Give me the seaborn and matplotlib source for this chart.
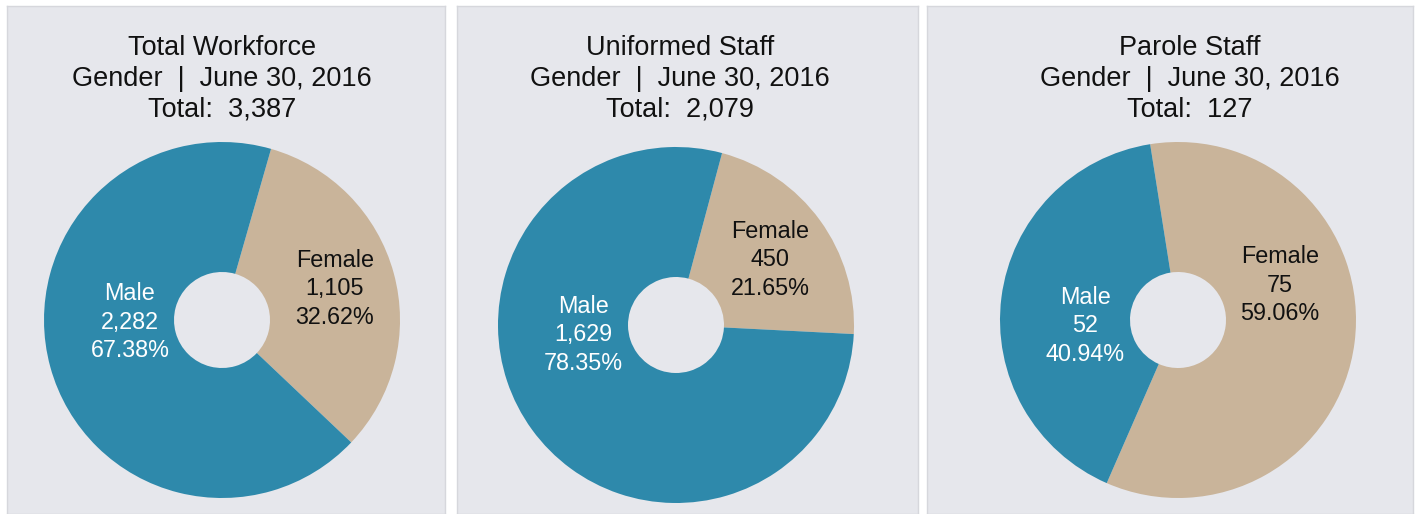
import matplotlib
matplotlib.use("Agg")
import matplotlib.pyplot as plt
import seaborn as sns

# chart data
titles = ["Total Workforce", "Uniformed Staff", "Parole Staff"]
report_date = "June 30, 2016"
totals = [3387, 2079, 127]
male_counts = [2282, 1629, 52]
female_counts = [1105, 450, 75]
male_pct = [67.38, 78.35, 40.94]
female_pct = [32.62, 21.65, 59.06]

sns.set_theme(style="white")
plt.rcParams["font.family"] = ["Liberation Sans", "DejaVu Sans"]

male_color, female_color = sns.color_palette(["#2E89AB", "#C9B49A"])
panel_bg = "#E6E7EC"

W, H = 1421, 514
fig = plt.figure(figsize=(W / 100, H / 100), dpi=100)
fig.patch.set_facecolor("white")

# layout in pixels (top-left origin)
panel_x = [(7, 445), (457, 918), (927, 1413)]
panel_y = (6, 514)
pie_centers = [(222, 320), (676, 325), (1178, 320)]
title_x = [222, 680, 1190]
female_start = [16, 15, -9]  # degrees clockwise from 12 o'clock
male_offsets = [(-92, -2), (-93, -10), (-93, -6)]
female_offsets = [(113, 31), (94, 65), (102, 35)]
radius, hole = 178, 48

for i in range(3):
    x0, x1 = panel_x[i]
    y0, y1 = panel_y
    ax = fig.add_axes([x0 / W, (H - y1) / H, (x1 - x0) / W, (y1 - y0) / H])
    ax.set_facecolor(panel_bg)
    cx, cy = pie_centers[i][0], H - pie_centers[i][1]

    ax.pie([female_counts[i], male_counts[i]],
           colors=[female_color, male_color],
           startangle=90 - female_start[i], counterclock=False,
           radius=radius, center=(cx, cy), frame=True,
           wedgeprops=dict(width=radius - hole, edgecolor="none"))

    ax.set_aspect("auto")
    ax.set_xlim(x0, x1)
    ax.set_ylim(H - y1, H - y0)
    ax.set_xticks([])
    ax.set_yticks([])
    for s in ax.spines.values():
        s.set_color("#D6D7DC")
        s.set_linewidth(1)

    ax.text(title_x[i], H - 79,
            f"{titles[i]}\nGender  |  {report_date}\nTotal:  {totals[i]:,}",
            ha="center", va="center", fontsize=19.5, color="#111111",
            linespacing=1.23)

    mx, my = male_offsets[i]
    ax.text(cx + mx, cy + my, f"Male\n{male_counts[i]:,}\n{male_pct[i]:.2f}%",
            ha="center", va="center", fontsize=16.8, color="white",
            linespacing=1.32)
    fx, fy = female_offsets[i]
    ax.text(cx + fx, cy + fy, f"Female\n{female_counts[i]:,}\n{female_pct[i]:.2f}%",
            ha="center", va="center", fontsize=16.8, color="#111111",
            linespacing=1.32)

fig.savefig("out.png", dpi=100)
